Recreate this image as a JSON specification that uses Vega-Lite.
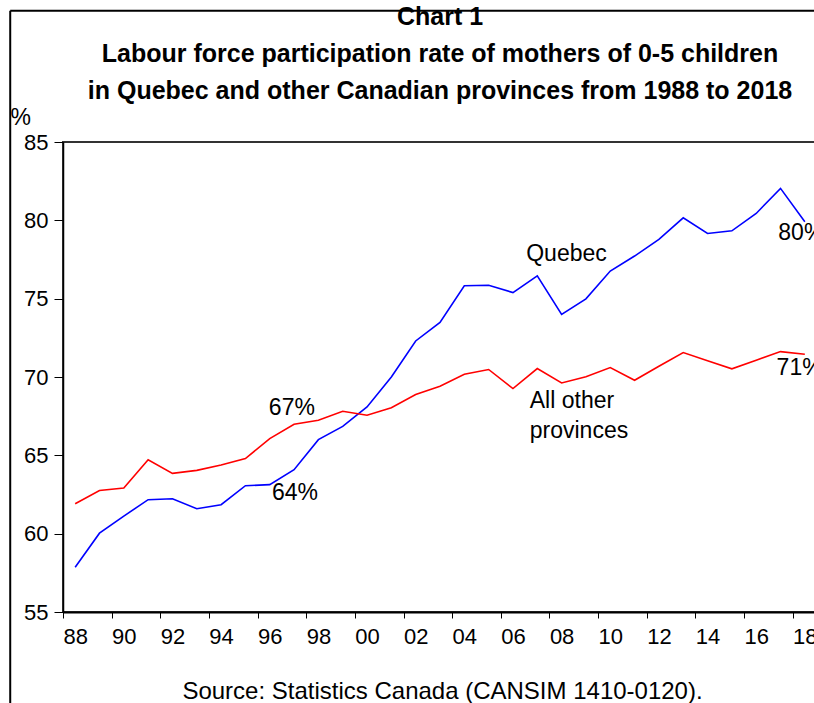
{
  "$schema": "https://vega.github.io/schema/vega-lite/v6.json",
  "width": 754,
  "height": 470,
  "autosize": "none",
  "padding": {"left": 63, "top": 142, "right": 0, "bottom": 91},
  "background": "white",
  "config": {
    "font": "Liberation Sans",
    "view": {"stroke": "#333333", "strokeWidth": 2},
    "axis": {"grid": false, "domainColor": "black", "tickColor": "black", "labelColor": "black", "titleColor": "black", "labelFont": "Liberation Sans", "titleFont": "Liberation Sans"}
  },
  "title": {
    "text": ["Chart 1", "Labour force participation rate of mothers of 0-5 children", "in Quebec and other Canadian provinces from 1988 to 2018"],
    "fontSize": 25,
    "fontWeight": "bold",
    "font": "Liberation Sans",
    "color": "black",
    "lineHeight": 37,
    "anchor": "middle",
    "frame": "group",
    "baseline": "bottom",
    "offset": 0,
    "dy": 119
  },
  "datasets": {
    "series": [
      {"year": 1988, "series": "Quebec", "value": 57.86},
      {"year": 1989, "series": "Quebec", "value": 60.03},
      {"year": 1990, "series": "Quebec", "value": 61.12},
      {"year": 1991, "series": "Quebec", "value": 62.17},
      {"year": 1992, "series": "Quebec", "value": 62.23},
      {"year": 1993, "series": "Quebec", "value": 61.59},
      {"year": 1994, "series": "Quebec", "value": 61.85},
      {"year": 1995, "series": "Quebec", "value": 63.06},
      {"year": 1996, "series": "Quebec", "value": 63.13},
      {"year": 1997, "series": "Quebec", "value": 64.08},
      {"year": 1998, "series": "Quebec", "value": 66.0},
      {"year": 1999, "series": "Quebec", "value": 66.85},
      {"year": 2000, "series": "Quebec", "value": 68.09},
      {"year": 2001, "series": "Quebec", "value": 70.0},
      {"year": 2002, "series": "Quebec", "value": 72.3},
      {"year": 2003, "series": "Quebec", "value": 73.48},
      {"year": 2004, "series": "Quebec", "value": 75.82},
      {"year": 2005, "series": "Quebec", "value": 75.86},
      {"year": 2006, "series": "Quebec", "value": 75.39},
      {"year": 2007, "series": "Quebec", "value": 76.46},
      {"year": 2008, "series": "Quebec", "value": 73.99},
      {"year": 2009, "series": "Quebec", "value": 74.99},
      {"year": 2010, "series": "Quebec", "value": 76.76},
      {"year": 2011, "series": "Quebec", "value": 77.72},
      {"year": 2012, "series": "Quebec", "value": 78.78},
      {"year": 2013, "series": "Quebec", "value": 80.16},
      {"year": 2014, "series": "Quebec", "value": 79.16},
      {"year": 2015, "series": "Quebec", "value": 79.33},
      {"year": 2016, "series": "Quebec", "value": 80.44},
      {"year": 2017, "series": "Quebec", "value": 82.04},
      {"year": 2018, "series": "Quebec", "value": 79.91},
      {"year": 1988, "series": "All other provinces", "value": 61.91},
      {"year": 1989, "series": "All other provinces", "value": 62.76},
      {"year": 1990, "series": "All other provinces", "value": 62.91},
      {"year": 1991, "series": "All other provinces", "value": 64.72},
      {"year": 1992, "series": "All other provinces", "value": 63.85},
      {"year": 1993, "series": "All other provinces", "value": 64.04},
      {"year": 1994, "series": "All other provinces", "value": 64.38},
      {"year": 1995, "series": "All other provinces", "value": 64.79},
      {"year": 1996, "series": "All other provinces", "value": 66.07},
      {"year": 1997, "series": "All other provinces", "value": 66.98},
      {"year": 1998, "series": "All other provinces", "value": 67.24},
      {"year": 1999, "series": "All other provinces", "value": 67.81},
      {"year": 2000, "series": "All other provinces", "value": 67.56},
      {"year": 2001, "series": "All other provinces", "value": 68.04},
      {"year": 2002, "series": "All other provinces", "value": 68.88},
      {"year": 2003, "series": "All other provinces", "value": 69.41},
      {"year": 2004, "series": "All other provinces", "value": 70.18},
      {"year": 2005, "series": "All other provinces", "value": 70.48},
      {"year": 2006, "series": "All other provinces", "value": 69.26},
      {"year": 2007, "series": "All other provinces", "value": 70.54},
      {"year": 2008, "series": "All other provinces", "value": 69.62},
      {"year": 2009, "series": "All other provinces", "value": 70.02},
      {"year": 2010, "series": "All other provinces", "value": 70.6},
      {"year": 2011, "series": "All other provinces", "value": 69.79},
      {"year": 2012, "series": "All other provinces", "value": 70.69},
      {"year": 2013, "series": "All other provinces", "value": 71.56},
      {"year": 2014, "series": "All other provinces", "value": 71.03},
      {"year": 2015, "series": "All other provinces", "value": 70.52},
      {"year": 2016, "series": "All other provinces", "value": 71.07},
      {"year": 2017, "series": "All other provinces", "value": 71.62},
      {"year": 2018, "series": "All other provinces", "value": 71.45}
    ],
    "centerLabels": [
      {"label": "Quebec", "year": 2008.2, "value": 77.82},
      {"label": "67%", "year": 1996.91, "value": 68.04},
      {"label": "64%", "year": 1997.04, "value": 62.61}
    ],
    "leftLabels": [
      {"label": "All other", "year": 2006.69, "value": 68.47},
      {"label": "provinces", "year": 2006.69, "value": 66.55},
      {"label": "80%", "year": 2016.91, "value": 79.22},
      {"label": "71%", "year": 2016.84, "value": 70.55}
    ],
    "frameV": [{"year": 1985.33, "top": 93.37, "bottom": 45}],
    "frameH": [{"value": 93.37, "left": 1985.33, "right": 2030}]
  },
  "layer": [
    {
      "data": {"name": "series"},
      "mark": {"type": "line", "strokeWidth": 1.6, "clip": false},
      "encoding": {
        "x": {
          "field": "year", "type": "quantitative",
          "scale": {"domain": [1987.5, 2018.5], "nice": false, "zero": false},
          "axis": {
            "values": [1988,1989,1990,1991,1992,1993,1994,1995,1996,1997,1998,1999,2000,2001,2002,2003,2004,2005,2006,2007,2008,2009,2010,2011,2012,2013,2014,2015,2016,2017,2018],
            "labelExpr": "datum.value % 2 == 0 ? substring(toString(datum.value), 2) : ''",
            "tickOffset": -12.16,
            "labelOffset": 12.16,
            "tickSize": 6,
            "tickWidth": 1,
            "domainWidth": 2,
            "labelFontSize": 22,
            "labelPadding": 8,
            "labelOverlap": false,
            "labelFlush": false,
            "labelBound": false,
            "title": "Source: Statistics Canada (CANSIM 1410-0120).",
            "titleFontSize": 24,
            "titleFontWeight": "normal",
            "titleBaseline": "alphabetic",
            "titleAlign": "center",
            "titleAnchor": "start",
            "titleX": 379,
            "titleY": 86
          }
        },
        "y": {
          "field": "value", "type": "quantitative",
          "scale": {"domain": [55, 85], "nice": false, "zero": false},
          "axis": {
            "values": [55, 60, 65, 70, 75, 80, 85],
            "tickSize": 9,
            "tickWidth": 1,
            "domainWidth": 1.5,
            "labelFontSize": 22,
            "labelPadding": 6,
            "labelFlush": false,
            "title": "%",
            "titleAngle": 0,
            "titleFontSize": 23,
            "titleFontWeight": "normal",
            "titleAlign": "left",
            "titleBaseline": "middle",
            "titleAnchor": "start",
            "titleX": -53,
            "titleY": -25
          }
        },
        "color": {
          "field": "series", "type": "nominal",
          "scale": {"domain": ["Quebec", "All other provinces"], "range": ["#0000ff", "#ff0000"]},
          "legend": null
        }
      }
    },
    {
      "data": {"name": "centerLabels"},
      "mark": {"type": "text", "fontSize": 23, "align": "center", "baseline": "middle", "color": "black", "clip": false},
      "encoding": {
        "x": {"field": "year", "type": "quantitative"},
        "y": {"field": "value", "type": "quantitative"},
        "text": {"field": "label"}
      }
    },
    {
      "data": {"name": "leftLabels"},
      "mark": {"type": "text", "fontSize": 23, "align": "left", "baseline": "middle", "color": "black", "clip": false},
      "encoding": {
        "x": {"field": "year", "type": "quantitative"},
        "y": {"field": "value", "type": "quantitative"},
        "text": {"field": "label"}
      }
    },
    {
      "data": {"name": "frameV"},
      "mark": {"type": "rule", "color": "black", "strokeWidth": 2, "clip": false},
      "encoding": {
        "x": {"field": "year", "type": "quantitative"},
        "y": {"field": "top", "type": "quantitative"},
        "y2": {"field": "bottom"}
      }
    },
    {
      "data": {"name": "frameH"},
      "mark": {"type": "rule", "color": "black", "strokeWidth": 2, "clip": false},
      "encoding": {
        "y": {"field": "value", "type": "quantitative"},
        "x": {"field": "left", "type": "quantitative"},
        "x2": {"field": "right"}
      }
    }
  ]
}
